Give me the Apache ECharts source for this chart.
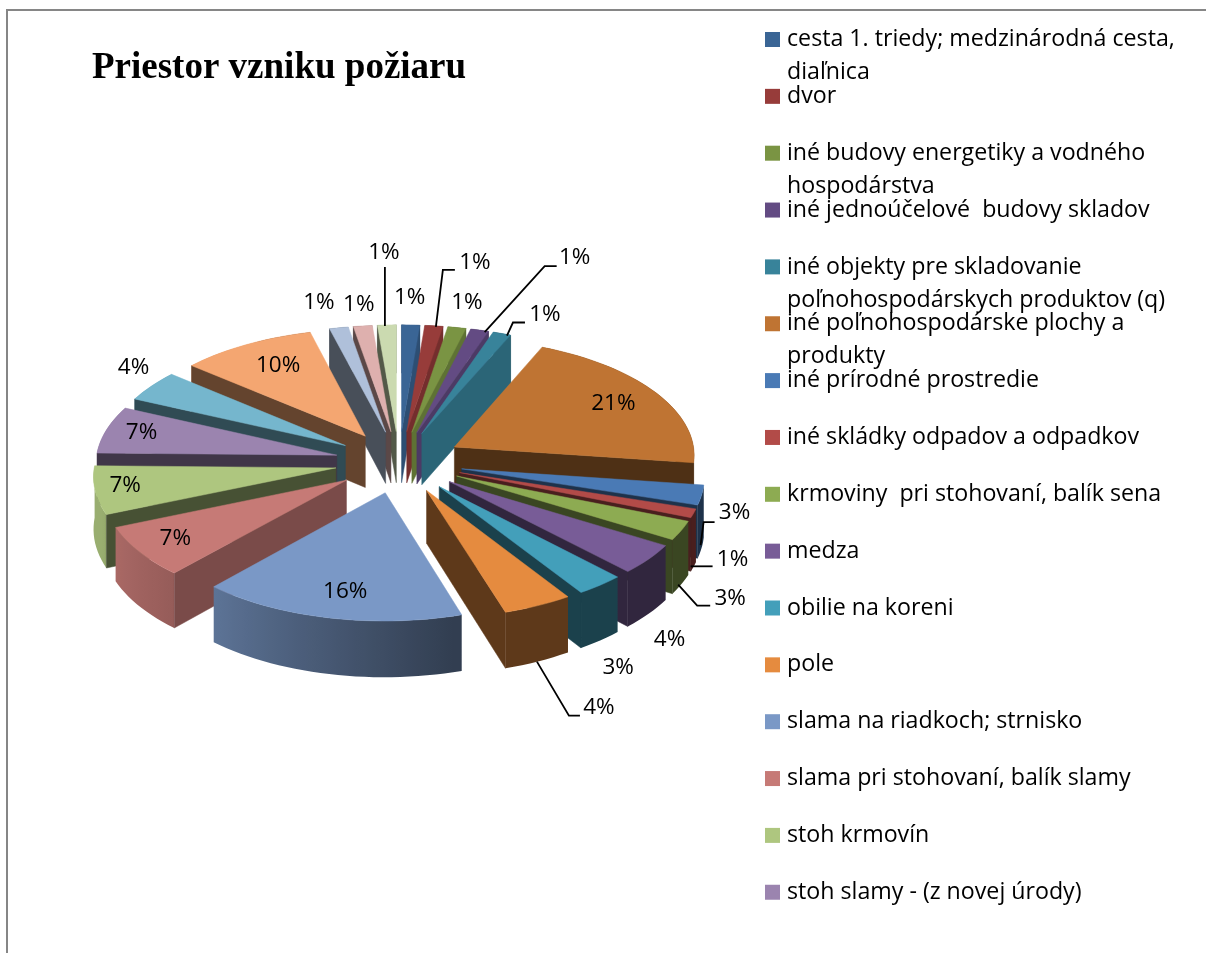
<!DOCTYPE html>
<html><head><meta charset="utf-8">
<style>html,body{margin:0;padding:0;background:#fff}#c{width:1206px;height:953px}</style>
<script src="https://cdn.jsdelivr.net/npm/echarts@6/dist/echarts.min.js"></script>
</head><body><div id="c"></div>
<script>
const titleText = 'Priestor vzniku požiaru';
const categories = [
 'cesta 1. triedy; medzinárodná cesta,\ndiaľnica','dvor','iné budovy energetiky a vodného\nhospodárstva',
 'iné jednoúčelové  budovy skladov','iné objekty pre skladovanie\npoľnohospodárskych produktov (q)',
 'iné poľnohospodárske plochy a\nprodukty','iné prírodné prostredie','iné skládky odpadov a odpadkov',
 'krmoviny  pri stohovaní, balík sena','medza','obilie na koreni','pole','slama na riadkoch; strnisko',
 'slama pri stohovaní, balík slamy','stoh krmovín','stoh slamy - (z novej úrody)',
 'položka 17','položka 18','položka 19','položka 20','položka 21'];
const legendCount = 16;
const values = [1.3,1.3,1.3,1.3,1.3,20.5,2.7,1.2,2.6,4.1,3.0,4.3,16.3,7.0,6.6,6.5,4.3,9.7,1.35,1.35,1.35];
const colors = ['#3A6595','#973C3A','#7A9443','#634B83','#38839A','#BF7433','#4A7AB5','#B24B48','#8DAB52','#785C97','#439FBA','#E58B3F','#7A98C6','#C67A76','#AEC67F','#9B84AF','#75B6CD','#F4A671','#AFC0DA','#DEB0AE','#CBDAB0'];
// label offset from the slice's outer rim midpoint
const labelOffsets = [[-1,-27],[41,-63],[10,-25],[95,-73],[43,-19],[-42,11],[33,18],[39,46],[49,68],[21,80],[18,82],[61,102],[16,-26],[36,-13],[30,-5],[35,3],[-18,-18],[32,21],[-20,-25],[-4,-21],[-3,-72]];
// leader: slice index -> [start dx,dy from rim; elbow dx,dy from label; end dx,dy from label]
const leaders = {1:[2,1,-32,7,-20,7],3:[5,2,-30,9,-18,9],4:[5,2,-32,8,-20,8],6:[-1,50,-31,9,-20,9],7:[-3,53,-32,7,-20,7],8:[-3,54,-33,7,-20,7],11:[-1,56,-30,8,-19,8],20:[-2,1,1,14,1,14]};

// projection of the tilted, exploded pie
const cx=399, cy=462, R=241, E=64, K=0.484, P=0.00025, T=52;
const rad=d=>d*Math.PI/180;
const total=values.reduce((a,b)=>a+b,0);
const starts=[]; values.reduce((a,v,i)=>{starts[i]=a/total*360;return a+v;},0);
const ends=values.map((v,i)=>starts[i]+v/total*360);
const mids=values.map((v,i)=>(starts[i]+ends[i])/2);
function proj(X,Y,Z){const f=1/(1-P*Y);return [cx+X*f, cy+(Y*K-Z)*f];}
function apexW(i){const m=rad(mids[i]);return [E*Math.sin(m),-E*Math.cos(m)];}
function rimW(i,th){const a=apexW(i),t=rad(th);return [a[0]+R*Math.sin(t),a[1]-R*Math.cos(t)];}
function shade(hex,b){const n=parseInt(hex.slice(1),16);const c=s=>Math.round(((n>>s)&255)*b);return `rgb(${c(16)},${c(8)},${c(0)})`;}
function wallB(th){ if(th<=165||th>=330) return 0.41; if(th<220) return 0.41+(th-165)/55*0.34; if(th<250) return 0.75+(th-220)/30*0.12; return 0.88;}
function faceB(ph){ if(ph<120) return 0.77; if(ph<130) return 0.63; if(ph<155) return 0.63-(ph-130)/25*0.2; return 0.41;}
function arc(i,Z){const n=Math.max(4,Math.ceil((ends[i]-starts[i])/2));const p=[];for(let k=0;k<=n;k++){const th=starts[i]+(ends[i]-starts[i])*k/n;const w=rimW(i,th);p.push(proj(w[0],w[1],Z));}return p;}

function renderSlice(i){
  const a=apexW(i), top=arc(i,0), bot=arc(i,-T);
  const A0=proj(a[0],a[1],0), A1=proj(a[0],a[1],-T);
  const kids=[];
  const c=colors[i];
  // outer wall
  const n=top.length-1, stops=[];
  const xs=top.map(p=>p[0]);const mn=Math.min(...xs),mx=Math.max(...xs);
  for(let k=0;k<=n;k++){const th=starts[i]+(ends[i]-starts[i])*k/n;stops.push({offset:(xs[k]-mn)/Math.max(1,mx-mn),color:shade(c,wallB(th))});}
  stops.sort((p,q)=>p.offset-q.offset);
  kids.push({type:'polygon',shape:{points:top.concat(bot.slice().reverse())},style:{fill:new echarts.graphic.LinearGradient(0,0,1,0,stops)}});
  // radial cut faces
  const radial=(phi,pT,pB)=>{ if(Math.cos(rad(phi))<-1e-6){const ph=((phi%360)+360)%360;
    const col=shade(c,faceB(ph));kids.push({type:'polygon',shape:{points:[A0,pT,pB,A1]},style:{fill:col,stroke:col,lineWidth:0.5}});}};
  radial(starts[i]-90,top[0],bot[0]);
  radial(ends[i]+90,top[n],bot[n]);
  kids.push({type:'polygon',shape:{points:[A0].concat(top)},style:{fill:c,stroke:c,lineWidth:0.5}});
  return {type:'group',children:kids};
}
function renderLabel(params,api){
  const i=params.dataIndex, w=rimW(i,mids[i]), rim=proj(w[0],w[1],0), o=labelOffsets[i];
  const lx=rim[0]+o[0], ly=rim[1]+o[1], kids=[];
  const L=leaders[i];
  if(L) kids.push({type:'polyline',shape:{points:[[rim[0]+L[0],rim[1]+L[1]],[lx+L[2],ly+L[3]],[lx+L[4],ly+L[5]]]},style:{fill:null,stroke:'#000',lineWidth:1.8}});
  kids.push({type:'text',style:{text:Math.round(api.value(0)/total*100)+'%',x:lx,y:ly,align:'center',verticalAlign:'middle',fill:'#000',font:'22.5px "Open Sans"'}});
  return {type:'group',children:kids};
}
const paintOrder=values.map((v,i)=>i).sort((p,q)=>Math.cos(rad(mids[q]))-Math.cos(rad(mids[p])));
const series=paintOrder.map((i,rank)=>({type:'custom',name:categories[i],coordinateSystem:'none',z:2+rank,silent:true,
  itemStyle:{color:colors[i]},data:[[values[i]]],renderItem:()=>renderSlice(i)}));
series.push({type:'custom',name:'štítky',coordinateSystem:'none',z:60,silent:true,data:values.map(v=>[v]),renderItem:renderLabel});

const chart=echarts.init(document.getElementById('c'),null,{renderer:'canvas'});
chart.setOption({
  animation:false,backgroundColor:'#fff',
  title:{text:titleText,left:92,top:50,padding:0,textStyle:{fontFamily:'"Liberation Serif"',fontWeight:'bold',fontSize:37,color:'#000'}},
  legend:{orient:'vertical',left:765,top:-10,height:1000,padding:0,itemWidth:15,itemHeight:15,itemGap:-42.15,icon:'rect',selectedMode:false,
    data:categories.slice(0,legendCount),
    formatter:n=>n.includes('\n')?' \n'+n:' \n'+n+'\n ',
    textStyle:{fontFamily:'"Open Sans"',fontSize:23.2,lineHeight:33,color:'#000',padding:[0,0,0,2]}},
  graphic:[{type:'rect',z:0,silent:true,shape:{x:7,y:10,width:1300,height:1100},style:{fill:'none',stroke:'#868686',lineWidth:2}}],
  series
});
</script></body></html>
